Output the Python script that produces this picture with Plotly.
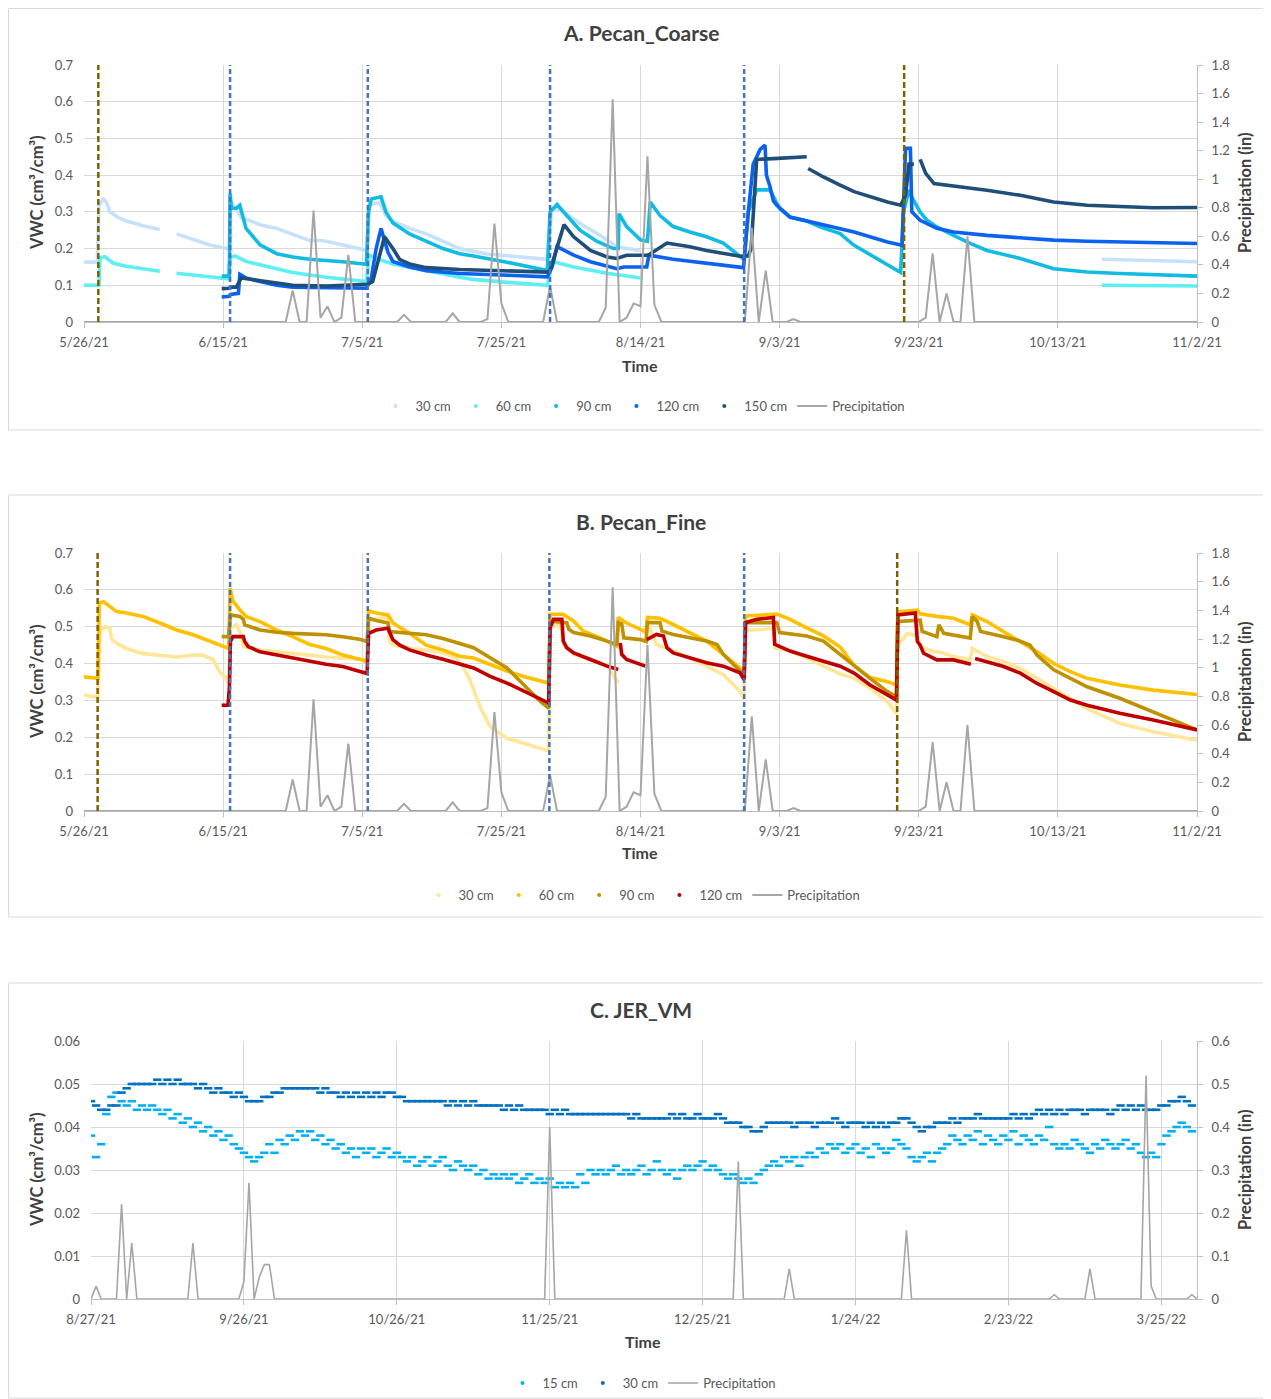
import pandas as pd
import plotly.graph_objects as go

W, H = 1271, 1399
OFF = 8                      # the page body margin offsets the figure by 8px
FIG_W, FIG_H = W - OFF, H - OFF
FONT = "Lato"

# ---------------- DATA ----------------
START_AB = pd.Timestamp("2021-05-26")   # day 0 for panels A and B
END_AB_DAY = 160
START_C = pd.Timestamp("2021-08-27")    # day 0 for panel C
END_C_DAY = 217

TICKS_AB = ["5/26/21", "6/15/21", "7/5/21", "7/25/21", "8/14/21", "9/3/21", "9/23/21", "10/13/21", "11/2/21"]
TICKS_C = ["8/27/21", "9/26/21", "10/26/21", "11/25/21", "12/25/21", "1/24/22", "2/23/22", "3/25/22"]

# irrigation / event markers (days since START_AB)
A_EVENTS_BROWN = [2.06, 117.9]
A_EVENTS_BLUE = [21.0, 40.8, 67.0, 94.9]
B_EVENTS_BROWN = [1.96, 116.9]
B_EVENTS_BLUE = [21.0, 40.8, 66.9, 94.9]

# precipitation (in), (day since START_AB, value) - same gauge for A and B
PRECIP_AB = [(0, 0), (29, 0), (30, 0.22), (31, 0), (32, 0), (33, 0.78), (34, 0.03), (35, 0.11), (36, 0),
             (37, 0.03), (38, 0.47), (39, 0), (45, 0), (46, 0.05), (47, 0), (52, 0), (53, 0.06), (54, 0),
             (57, 0), (58, 0.02), (59, 0.69), (60, 0.13), (61, 0), (66, 0), (67, 0.25), (68, 0), (74, 0),
             (75, 0.10), (76, 1.56), (77, 0), (78, 0.03), (79, 0.13), (80, 0.11), (81, 1.16), (82, 0.12),
             (83, 0), (95, 0), (96, 0.66), (97, 0), (98, 0.36), (99, 0), (101, 0), (102, 0.02), (103, 0),
             (120, 0), (121, 0.03), (122, 0.48), (123, 0), (124, 0.20), (125, 0), (126, 0), (127, 0.60),
             (128, 0), (160, 0)]

# ---- Panel A: Pecan_Coarse VWC (day since START_AB, cm3/cm3) ----
A_30CM = [(0, 0.163), (1.9, 0.163), (2.15, 0.320), (2.8, 0.335), (3.25, 0.325), (3.7, 0.300), (4.9, 0.285),
          (6.1, 0.275), (8.5, 0.262), (10.9, 0.252), (12.1, None), (13.3, 0.240), (15.7, 0.225), (18.1, 0.210),
          (20.5, 0.200), (20.9, 0.200), (21.0, 0.325), (21.4, 0.320), (22.6, 0.285), (23.8, 0.275), (25.3, 0.265),
          (27.7, 0.255), (30.0, 0.240), (32.4, 0.222), (33.9, 0.222), (34.8, 0.220), (37.2, 0.210), (39.6, 0.200),
          (40.7, 0.195), (41.0, 0.320), (42.5, 0.325), (43.4, 0.290), (44.4, 0.275), (46.8, 0.255), (49.2, 0.240),
          (51.6, 0.220), (54.0, 0.200), (58.0, 0.185), (62.0, 0.178), (66.6, 0.171), (67.2, 0.300), (68.0, 0.310),
          (69.4, 0.295), (71.3, 0.268), (74.2, 0.236), (76.6, 0.205), (79.9, 0.195), (113.0, None),
          (146.3, 0.171), (153.0, 0.168), (160.0, 0.164)]
A_60CM = [(0, 0.100), (2.15, 0.100), (2.3, 0.175), (3.0, 0.178), (4.2, 0.160), (6.1, 0.152), (8.5, 0.145),
          (10.9, 0.138), (12.1, None), (13.3, 0.133), (15.7, 0.128), (18.1, 0.122), (20.7, 0.118), (21.0, 0.175),
          (21.7, 0.180), (23.3, 0.165), (25.3, 0.155), (27.7, 0.145), (30.0, 0.135), (32.4, 0.128), (34.8, 0.122),
          (37.2, 0.117), (40.6, 0.110), (41.0, 0.182), (42.5, 0.170), (44.4, 0.158), (46.8, 0.148), (49.2, 0.140),
          (54.0, 0.122), (56.0, 0.116), (60.8, 0.108), (66.6, 0.100), (67.3, 0.165), (70.4, 0.150), (75.2, 0.133),
          (80.0, 0.120), (113.0, None), (146.3, 0.100), (160.0, 0.098)]
A_90CM = [(19.8, 0.125), (20.9, 0.125), (21.0, 0.350), (21.2, 0.310), (21.9, 0.310), (22.4, 0.318), (23.3, 0.255),
          (25.3, 0.210), (27.7, 0.186), (30.0, 0.177), (32.4, 0.171), (34.8, 0.168), (37.2, 0.164), (40.6, 0.157),
          (40.9, 0.300), (41.3, 0.335), (42.7, 0.341), (43.4, 0.300), (44.4, 0.270), (46.8, 0.240), (49.2, 0.220),
          (51.6, 0.200), (54.0, 0.186), (56.0, 0.180), (60.8, 0.163), (66.6, 0.140), (67.0, 0.300), (68.0, 0.320),
          (69.4, 0.290), (71.3, 0.250), (73.7, 0.220), (76.1, 0.200), (76.8, 0.200), (76.9, 0.295), (78.0, 0.260),
          (80.0, 0.224), (81.0, 0.220), (81.4, 0.327), (82.8, 0.290), (84.7, 0.260), (87.1, 0.245), (89.5, 0.232),
          (91.9, 0.215), (94.3, 0.180), (94.9, 0.170), (95.5, 0.300), (96.7, 0.360), (98.6, 0.360), (99.1, 0.340),
          (100.0, 0.309), (101.5, 0.285), (103.9, 0.275), (105.8, 0.259), (108.7, 0.241), (110.7, 0.209),
          (115.5, 0.155), (117.4, 0.135), (117.8, 0.300), (118.6, 0.360), (119.0, 0.340), (120.2, 0.300),
          (121.2, 0.277), (122.6, 0.259), (125.0, 0.236), (127.4, 0.214), (129.8, 0.195), (134.6, 0.173),
          (139.4, 0.145), (144.2, 0.136), (148.9, 0.132), (153.7, 0.129), (160.0, 0.125)]
A_120CM = [(19.8, 0.068), (20.9, 0.070), (21.05, 0.075), (22.2, 0.078), (22.4, 0.130), (23.3, 0.120), (25.3, 0.110),
           (27.7, 0.100), (30.0, 0.095), (34.8, 0.093), (40.6, 0.092), (41.3, 0.120), (42.0, 0.200), (42.7, 0.255),
           (43.7, 0.190), (44.4, 0.165), (46.8, 0.150), (49.2, 0.140), (54.0, 0.132), (60.0, 0.128), (66.6, 0.123),
           (67.3, 0.150), (68.0, 0.205), (70.4, 0.182), (72.8, 0.164), (76.6, 0.145), (77.6, 0.150), (80.9, 0.150),
           (81.2, 0.182), (84.7, 0.171), (89.5, 0.159), (94.8, 0.148), (95.5, 0.300), (96.2, 0.430), (97.2, 0.470),
           (97.9, 0.482), (98.1, 0.400), (98.6, 0.370), (99.1, 0.330), (99.6, 0.318), (101.5, 0.286), (103.9, 0.275),
           (105.8, 0.268), (110.7, 0.245), (115.5, 0.218), (117.6, 0.209), (118.1, 0.473), (118.8, 0.473),
           (119.0, 0.300), (120.2, 0.277), (122.6, 0.255), (125.0, 0.245), (129.8, 0.236), (134.6, 0.229),
           (139.4, 0.223), (144.2, 0.220), (153.7, 0.216), (160.0, 0.214)]
A_150CM = [(19.8, 0.091), (20.9, 0.092), (21.05, 0.095), (21.9, 0.095), (22.6, 0.120), (23.3, 0.118), (25.3, 0.112),
           (27.7, 0.105), (30.0, 0.100), (34.8, 0.098), (39.6, 0.102), (40.8, 0.103), (41.5, 0.110), (42.5, 0.180),
           (43.2, 0.232), (44.4, 0.200), (45.4, 0.170), (46.8, 0.158), (49.2, 0.148), (54.0, 0.143), (60.0, 0.140),
           (66.6, 0.136), (67.0, 0.140), (68.0, 0.200), (69.0, 0.265), (70.4, 0.232), (72.8, 0.195), (75.2, 0.177),
           (76.6, 0.173), (78.0, 0.182), (81.1, 0.182), (83.8, 0.215), (87.1, 0.205), (89.5, 0.195), (94.3, 0.179),
           (95.5, 0.180), (95.9, 0.200), (96.4, 0.350), (96.7, 0.443), (99.1, 0.445), (103.9, 0.450), (104.0, None),
           (104.1, 0.418), (106.3, 0.395), (108.7, 0.373), (110.7, 0.355), (115.5, 0.327), (117.4, 0.318),
           (118.1, 0.345), (118.6, 0.430), (119.3, 0.430), (119.8, None), (120.2, 0.443), (121.0, 0.405),
           (122.2, 0.377), (125.0, 0.371), (129.8, 0.359), (134.6, 0.345), (139.4, 0.327), (144.2, 0.318),
           (148.9, 0.314), (153.7, 0.311), (160.0, 0.312)]

# ---- Panel B: Pecan_Fine VWC ----
B_30CM = [(0, 0.315), (2.0, 0.308), (2.3, 0.487), (3.0, 0.500), (3.7, 0.496), (4.0, 0.465), (4.7, 0.455),
          (6.1, 0.441), (8.5, 0.427), (10.9, 0.423), (13.3, 0.418), (15.7, 0.423), (17.1, 0.423), (18.6, 0.410),
          (19.5, 0.377), (20.5, 0.360), (20.8, 0.346), (21.0, 0.496), (21.9, 0.505), (22.6, 0.478), (22.9, 0.446),
          (25.3, 0.437), (27.7, 0.433), (30.0, 0.428), (32.4, 0.423), (34.8, 0.418), (37.2, 0.414), (39.6, 0.410),
          (40.7, 0.410), (41.1, 0.520), (43.7, 0.525), (43.9, 0.465), (44.4, 0.450), (46.8, 0.441), (49.2, 0.437),
          (51.6, 0.430), (53.5, 0.415), (54.5, 0.390), (55.5, 0.355), (56.2, 0.320), (57.0, 0.280), (58.4, 0.229),
          (60.8, 0.197), (63.2, 0.184), (66.8, 0.163), (67.0, 0.500), (68.5, 0.505), (68.9, 0.452), (70.4, 0.425),
          (72.8, 0.411), (75.2, 0.395), (76.8, 0.347), (79.0, None), (81.2, 0.502), (82.3, 0.452), (84.7, 0.434),
          (87.1, 0.415), (89.5, 0.393), (91.9, 0.370), (94.3, 0.325), (94.9, 0.302), (95.1, 0.490), (99.1, 0.495),
          (99.3, 0.443), (101.5, 0.434), (103.9, 0.415), (106.0, 0.395), (108.7, 0.372), (110.7, 0.360),
          (113.0, 0.333), (115.5, 0.296), (116.8, 0.265), (117.0, 0.450), (118.4, 0.482), (119.8, 0.475),
          (120.2, 0.446), (122.2, 0.432), (123.3, 0.430), (125.0, 0.419), (127.4, 0.410), (127.7, 0.441),
          (129.8, 0.419), (132.2, 0.405), (134.6, 0.387), (137.0, 0.360), (139.4, 0.333), (144.2, 0.278),
          (148.9, 0.238), (153.7, 0.215), (160.0, 0.192)]
B_60CM = [(0, 0.364), (2.0, 0.360), (2.2, 0.564), (2.8, 0.568), (3.7, 0.555), (4.7, 0.541), (6.1, 0.537),
          (8.5, 0.528), (10.9, 0.510), (13.3, 0.491), (15.7, 0.478), (18.1, 0.460), (20.8, 0.441), (21.0, 0.605),
          (21.4, 0.570), (22.4, 0.546), (23.3, 0.528), (25.3, 0.514), (27.7, 0.491), (30.0, 0.473), (32.4, 0.452),
          (34.8, 0.441), (37.2, 0.423), (39.6, 0.412), (40.7, 0.405), (40.9, 0.543), (42.0, 0.537), (43.7, 0.532),
          (44.4, 0.510), (46.8, 0.482), (49.2, 0.450), (51.6, 0.437), (54.0, 0.420), (56.0, 0.415), (58.4, 0.397),
          (60.8, 0.380), (63.2, 0.365), (66.8, 0.347), (67.0, 0.534), (68.9, 0.534), (70.4, 0.515), (71.8, 0.488),
          (74.2, 0.470), (76.6, 0.447), (76.8, 0.525), (78.0, 0.510), (80.0, 0.493), (80.8, 0.485), (81.0, 0.525),
          (82.8, 0.523), (84.7, 0.506), (87.1, 0.484), (89.5, 0.461), (91.9, 0.425), (94.3, 0.388), (94.9, 0.375),
          (95.1, 0.529), (99.6, 0.534), (101.5, 0.520), (103.9, 0.497), (106.3, 0.475), (108.7, 0.445),
          (110.7, 0.395), (113.0, 0.362), (115.5, 0.351), (116.8, 0.342), (117.0, 0.541), (119.8, 0.545),
          (120.2, 0.535), (122.6, 0.528), (125.0, 0.523), (127.4, 0.505), (127.7, 0.532), (129.8, 0.514),
          (132.2, 0.487), (134.6, 0.460), (137.0, 0.432), (139.4, 0.400), (141.8, 0.378), (144.2, 0.360),
          (148.9, 0.342), (153.7, 0.328), (160.0, 0.316)]
B_90CM = [(19.8, 0.473), (20.8, 0.473), (21.05, 0.532), (22.4, 0.528), (22.9, 0.520), (23.1, 0.505), (25.3, 0.491),
          (27.7, 0.485), (30.0, 0.482), (34.8, 0.478), (37.2, 0.473), (39.6, 0.466), (40.7, 0.460), (40.9, 0.523),
          (42.0, 0.517), (43.7, 0.510), (43.9, 0.487), (46.8, 0.482), (49.2, 0.478), (51.6, 0.468), (56.0, 0.443),
          (60.8, 0.388), (63.2, 0.343), (65.6, 0.297), (66.8, 0.279), (67.0, 0.515), (69.4, 0.511), (69.7, 0.493),
          (70.4, 0.484), (72.8, 0.475), (75.2, 0.461), (76.6, 0.452), (76.8, 0.511), (77.3, 0.508), (77.6, 0.470),
          (80.0, 0.465), (80.8, 0.460), (81.0, 0.511), (82.8, 0.511), (83.1, 0.488), (84.7, 0.479), (87.1, 0.470),
          (89.5, 0.461), (91.0, 0.452), (91.9, 0.425), (93.4, 0.397), (94.9, 0.370), (95.1, 0.511), (99.6, 0.511),
          (100.0, 0.484), (103.9, 0.475), (106.3, 0.461), (108.7, 0.425), (110.7, 0.392), (113.0, 0.360),
          (115.5, 0.324), (116.8, 0.310), (117.0, 0.514), (120.2, 0.518), (120.5, 0.487), (122.6, 0.473),
          (122.9, 0.505), (123.6, 0.482), (127.4, 0.469), (127.7, 0.528), (128.4, 0.514), (128.9, 0.487),
          (132.2, 0.473), (134.6, 0.461), (136.0, 0.450), (137.0, 0.423), (139.4, 0.383), (141.8, 0.360),
          (144.2, 0.337), (148.9, 0.306), (153.7, 0.269), (160.0, 0.220)]
B_120CM = [(19.8, 0.287), (20.7, 0.287), (20.9, 0.333), (21.05, 0.460), (21.4, 0.473), (22.9, 0.473), (23.1, 0.460),
           (23.6, 0.446), (25.3, 0.432), (27.7, 0.423), (30.0, 0.414), (32.4, 0.405), (34.8, 0.398), (37.2, 0.392),
           (39.6, 0.380), (40.7, 0.373), (40.9, 0.482), (42.0, 0.491), (43.7, 0.496), (44.4, 0.465), (45.4, 0.450),
           (46.8, 0.437), (49.2, 0.423), (51.6, 0.412), (56.0, 0.388), (58.4, 0.365), (60.8, 0.347), (63.2, 0.325),
           (66.8, 0.293), (67.0, 0.497), (67.5, 0.520), (68.7, 0.520), (68.9, 0.461), (69.4, 0.443), (70.4, 0.429),
           (72.8, 0.411), (75.2, 0.393), (76.8, 0.384), (76.95, None), (77.1, 0.456), (77.3, 0.425), (78.0, 0.411),
           (80.0, 0.397), (80.7, 0.393), (80.8, None), (80.9, 0.465), (82.3, 0.479), (83.3, 0.475), (83.8, 0.443),
           (84.7, 0.429), (87.1, 0.415), (89.5, 0.402), (91.9, 0.393), (94.3, 0.375), (94.9, 0.356), (95.1, 0.511),
           (96.7, 0.520), (99.1, 0.525), (99.3, 0.452), (101.5, 0.434), (103.9, 0.420), (108.7, 0.393),
           (110.7, 0.374), (113.0, 0.342), (115.5, 0.315), (116.8, 0.301), (117.0, 0.532), (119.5, 0.537),
           (119.8, 0.460), (120.2, 0.450), (120.7, 0.428), (122.6, 0.410), (125.0, 0.410), (127.5, 0.398),
           (127.8, None), (128.1, 0.414), (129.8, 0.405), (132.2, 0.392), (134.6, 0.374), (137.0, 0.346),
           (139.4, 0.324), (141.8, 0.301), (144.2, 0.287), (148.9, 0.265), (153.7, 0.247), (160.0, 0.220)]

# ---- Panel C: JER_VM daily VWC from START_C (day 0 .. 216) ----
C_15CM = [0.038, 0.033, 0.036, 0.043, 0.047, 0.048, 0.046, 0.045, 0.046, 0.044,
          0.045, 0.044, 0.045, 0.044, 0.043, 0.044, 0.042, 0.043, 0.041, 0.042,
          0.040, 0.041, 0.039, 0.040, 0.038, 0.039, 0.037, 0.038, 0.036, 0.035,
          0.034, 0.033, 0.032, 0.033, 0.034, 0.036, 0.034, 0.037, 0.036, 0.038,
          0.037, 0.039, 0.038, 0.039, 0.037, 0.038, 0.036, 0.037, 0.035, 0.036,
          0.034, 0.035, 0.033, 0.035, 0.034, 0.035, 0.033, 0.034, 0.035, 0.033,
          0.034, 0.033, 0.032, 0.033, 0.031, 0.032, 0.033, 0.031, 0.032, 0.033,
          0.031, 0.030, 0.032, 0.031, 0.030, 0.031, 0.029, 0.030, 0.028, 0.029,
          0.028, 0.029, 0.028, 0.029, 0.027, 0.028, 0.029, 0.027, 0.028, 0.027,
          0.028, 0.026, 0.027, 0.026, 0.027, 0.026, 0.029, 0.027, 0.030, 0.029,
          0.030, 0.029, 0.030, 0.031, 0.029, 0.030, 0.029, 0.030, 0.031, 0.029,
          0.030, 0.032, 0.030, 0.029, 0.030, 0.028, 0.030, 0.031, 0.030, 0.031,
          0.032, 0.030, 0.031, 0.030, 0.029, 0.028, 0.029, 0.028, 0.027, 0.028,
          0.027, 0.029, 0.030, 0.031, 0.032, 0.031, 0.033, 0.032, 0.033, 0.031,
          0.033, 0.034, 0.033, 0.035, 0.034, 0.036, 0.035, 0.036, 0.034, 0.035,
          0.036, 0.034, 0.035, 0.033, 0.036, 0.035, 0.034, 0.035, 0.037, 0.036,
          0.035, 0.033, 0.032, 0.033, 0.034, 0.032, 0.034, 0.035, 0.036, 0.038,
          0.037, 0.036, 0.038, 0.037, 0.039, 0.036, 0.038, 0.037, 0.036, 0.038,
          0.037, 0.039, 0.036, 0.038, 0.037, 0.036, 0.038, 0.037, 0.040, 0.036,
          0.035, 0.036, 0.035, 0.037, 0.036, 0.035, 0.034, 0.036, 0.035, 0.037,
          0.036, 0.035, 0.036, 0.037, 0.035, 0.036, 0.034, 0.033, 0.034, 0.033,
          0.036, 0.038, 0.039, 0.040, 0.041, 0.040, 0.039]
C_30CM = [0.046, 0.045, 0.044, 0.044, 0.045, 0.045, 0.048, 0.049, 0.050, 0.050,
          0.050, 0.050, 0.050, 0.051, 0.050, 0.051, 0.050, 0.051, 0.050, 0.050,
          0.050, 0.049, 0.050, 0.049, 0.048, 0.049, 0.048, 0.048, 0.047, 0.048,
          0.047, 0.046, 0.046, 0.046, 0.047, 0.047, 0.048, 0.048, 0.049, 0.049,
          0.049, 0.049, 0.049, 0.049, 0.049, 0.048, 0.049, 0.048, 0.048, 0.047,
          0.048, 0.047, 0.048, 0.047, 0.048, 0.047, 0.048, 0.047, 0.048, 0.048,
          0.047, 0.047, 0.046, 0.046, 0.046, 0.046, 0.046, 0.046, 0.046, 0.046,
          0.045, 0.046, 0.045, 0.046, 0.045, 0.046, 0.045, 0.045, 0.045, 0.045,
          0.045, 0.044, 0.045, 0.044, 0.045, 0.044, 0.044, 0.044, 0.044, 0.044,
          0.043, 0.044, 0.043, 0.044, 0.043, 0.043, 0.043, 0.043, 0.043, 0.043,
          0.043, 0.043, 0.043, 0.043, 0.043, 0.043, 0.042, 0.043, 0.042, 0.042,
          0.042, 0.042, 0.042, 0.042, 0.043, 0.042, 0.043, 0.042, 0.042, 0.043,
          0.042, 0.042, 0.042, 0.043, 0.042, 0.041, 0.041, 0.041, 0.040, 0.040,
          0.039, 0.039, 0.040, 0.041, 0.041, 0.041, 0.041, 0.041, 0.040, 0.041,
          0.041, 0.041, 0.040, 0.041, 0.041, 0.041, 0.042, 0.041, 0.040, 0.041,
          0.041, 0.041, 0.040, 0.041, 0.040, 0.041, 0.040, 0.041, 0.041, 0.042,
          0.042, 0.041, 0.040, 0.039, 0.040, 0.040, 0.041, 0.041, 0.041, 0.042,
          0.041, 0.042, 0.042, 0.042, 0.043, 0.042, 0.042, 0.042, 0.042, 0.042,
          0.042, 0.043, 0.042, 0.043, 0.042, 0.043, 0.044, 0.043, 0.044, 0.043,
          0.044, 0.043, 0.044, 0.044, 0.044, 0.043, 0.044, 0.044, 0.044, 0.044,
          0.043, 0.044, 0.045, 0.044, 0.045, 0.044, 0.045, 0.044, 0.044, 0.044,
          0.045, 0.045, 0.046, 0.046, 0.047, 0.046, 0.045]
PRECIP_C = [(0, 0), (1, 0.03), (2, 0), (5, 0), (6, 0.22), (7, 0), (8, 0.13), (9, 0), (19, 0), (20, 0.13), (21, 0),
            (29, 0), (30, 0.04), (31, 0.27), (32, 0), (33, 0.05), (34, 0.08), (35, 0.08), (36, 0), (89, 0),
            (90, 0.40), (91, 0), (126, 0), (127, 0.32), (128, 0), (136, 0), (137, 0.07), (138, 0), (159, 0),
            (160, 0.16), (161, 0), (188, 0), (189, 0.01), (190, 0), (195, 0), (196, 0.07), (197, 0), (206, 0),
            (207, 0.52), (208, 0.03), (209, 0), (215, 0), (216, 0.01), (217, 0)]

# ---------------- STYLE ----------------
COL_A = {"30 cm": "#C6E2FA", "60 cm": "#5EEFF3", "90 cm": "#12BBE2", "120 cm": "#0B62EE", "150 cm": "#1F4E79"}
COL_B = {"30 cm": "#FFE699", "60 cm": "#FFC000", "90 cm": "#BF9000", "120 cm": "#C00000"}
COL_C = {"15 cm": "#00B0F0", "30 cm": "#0070C0"}
COL_PRECIP = "#A6A6A6"
COL_BROWN = "#7F6000"
COL_BLUE = "#4472C4"
GRID = "#D9D9D9"
AXLINE = "#BFBFBF"
TICKC = "#595959"
TITLEC = "#404040"


def px(x):
    return (x - OFF) / FIG_W


def py(y):
    return 1 - (y - OFF) / FIG_H


def to_xy(start, pairs):
    xs = [start + pd.Timedelta(days=d) for d, _ in pairs]
    ys = [v for _, v in pairs]
    return xs, ys


fig = go.Figure()


def add_line_panel(series, colors, xa, ya, ya2, leg, start, precip):
    for name, pairs in series:
        xs, ys = to_xy(start, pairs)
        fig.add_trace(go.Scatter(x=xs, y=ys, mode="lines", connectgaps=False,
                                 line=dict(color=colors[name], width=3.6),
                                 showlegend=False, xaxis=xa, yaxis=ya, hoverinfo="skip"))
    for name, _ in series:
        fig.add_trace(go.Scatter(x=[None], y=[None], mode="markers", name=name,
                                 marker=dict(color=colors[name], size=4),
                                 legend=leg, xaxis=xa, yaxis=ya))
    xs, ys = to_xy(start, precip)
    fig.add_trace(go.Scatter(x=xs, y=ys, mode="lines", name="Precipitation",
                             line=dict(color=COL_PRECIP, width=2),
                             legend=leg, xaxis=xa, yaxis=ya2, hoverinfo="skip"))


add_line_panel([("30 cm", A_30CM), ("60 cm", A_60CM), ("90 cm", A_90CM), ("120 cm", A_120CM), ("150 cm", A_150CM)],
               COL_A, "x", "y", "y2", "legend", START_AB, PRECIP_AB)
add_line_panel([("30 cm", B_30CM), ("60 cm", B_60CM), ("90 cm", B_90CM), ("120 cm", B_120CM)],
               COL_B, "x2", "y3", "y4", "legend2", START_AB, PRECIP_AB)

for name, vals in [("15 cm", C_15CM), ("30 cm", C_30CM)]:
    xs = [START_C + pd.Timedelta(days=i) for i in range(len(vals))]
    fig.add_trace(go.Scatter(x=xs, y=vals, mode="markers",
                             marker=dict(symbol="line-ew", size=6, line=dict(width=2.6, color=COL_C[name])),
                             showlegend=False, xaxis="x3", yaxis="y5", hoverinfo="skip"))
for name in ["15 cm", "30 cm"]:
    fig.add_trace(go.Scatter(x=[None], y=[None], mode="markers", name=name,
                             marker=dict(color=COL_C[name], size=4), legend="legend3", xaxis="x3", yaxis="y5"))
xs, ys = to_xy(START_C, PRECIP_C)
fig.add_trace(go.Scatter(x=xs, y=ys, mode="lines", name="Precipitation",
                         line=dict(color=COL_PRECIP, width=1.6), legend="legend3",
                         xaxis="x3", yaxis="y6", hoverinfo="skip"))

# ---------------- AXES ----------------
XDOM_AB = [px(84), px(1197)]
XDOM_C = [px(91), px(1197)]
YDOM_A = [py(322), py(65)]
YDOM_B = [py(811), py(553)]
YDOM_C = [py(1299), py(1041)]


def xaxis(domain, anchor, start, end_day, labels):
    return dict(domain=domain, anchor=anchor, type="date", automargin=False,
                range=[start, start + pd.Timedelta(days=end_day)],
                tickmode="array", tickvals=[pd.to_datetime(t, format="%m/%d/%y") for t in labels],
                ticktext=labels, showgrid=True, gridcolor=GRID, gridwidth=1,
                showline=True, linecolor=AXLINE, linewidth=1, ticks="outside", ticklen=5,
                tickcolor=AXLINE, zeroline=False, tickfont=dict(size=13, color=TICKC),
                ticklabelstandoff=3)


def yleft(domain, anchor, rng, dtick):
    return dict(domain=domain, anchor=anchor, range=rng, dtick=dtick, tick0=0, automargin=False,
                showgrid=True, gridcolor=GRID, gridwidth=1, zeroline=False, showline=False,
                ticks="", tickfont=dict(size=13, color=TICKC), ticklabelstandoff=10)


def yright(domain, anchor, over, rng, dtick):
    return dict(domain=domain, anchor=anchor, overlaying=over, side="right", range=rng, dtick=dtick,
                tick0=0, automargin=False, showgrid=False, zeroline=False, showline=True, linecolor=AXLINE,
                linewidth=1, ticks="outside", ticklen=5, tickcolor=AXLINE,
                tickfont=dict(size=13, color=TICKC), ticklabelstandoff=6)


fig.update_layout(
    width=FIG_W, height=FIG_H, autosize=False,
    margin=dict(l=0, r=0, t=0, b=0, pad=0, autoexpand=False),
    paper_bgcolor="white", plot_bgcolor="white",
    font=dict(family=FONT, size=13, color=TICKC),
    xaxis=xaxis(XDOM_AB, "y", START_AB, END_AB_DAY, TICKS_AB),
    yaxis=yleft(YDOM_A, "x", [0, 0.7], 0.1),
    yaxis2=yright(YDOM_A, "x", "y", [0, 1.8], 0.2),
    xaxis2=xaxis(XDOM_AB, "y3", START_AB, END_AB_DAY, TICKS_AB),
    yaxis3=yleft(YDOM_B, "x2", [0, 0.7], 0.1),
    yaxis4=yright(YDOM_B, "x2", "y3", [0, 1.8], 0.2),
    xaxis3=xaxis(XDOM_C, "y5", START_C, END_C_DAY, TICKS_C),
    yaxis5=yleft(YDOM_C, "x3", [0, 0.06], 0.01),
    yaxis6=yright(YDOM_C, "x3", "y5", [0, 0.6], 0.1),
)

leg_common = dict(orientation="h", xanchor="center", yanchor="middle", bgcolor="rgba(0,0,0,0)",
                  font=dict(family=FONT, size=13, color=TICKC), itemwidth=30, tracegroupgap=0)
fig.update_layout(
    legend=dict(x=px(643), y=py(406), **leg_common),
    legend2=dict(x=px(642), y=py(895), **leg_common),
    legend3=dict(x=px(642), y=py(1383), **leg_common),
)

# ---------------- SHAPES ----------------
shapes = []
for y0, y1 in [(8.5, 430), (495, 917), (983, 1398)]:
    shapes.append(dict(type="rect", xref="paper", yref="paper", x0=px(8.5), x1=1.02, y0=py(y1), y1=py(y0),
                       line=dict(color=GRID, width=1), fillcolor="rgba(0,0,0,0)", layer="below"))


def event_lines(days, color, xref, yref, dash):
    for d in days:
        x = START_AB + pd.Timedelta(days=d)
        shapes.append(dict(type="line", xref=xref, yref=yref, x0=x, x1=x, y0=0, y1=1,
                           line=dict(color=color, width=2.5, dash=dash), layer="above"))


event_lines(A_EVENTS_BROWN, COL_BROWN, "x", "y domain", "6px,3px")
event_lines(A_EVENTS_BLUE, COL_BLUE, "x", "y domain", "5px,3px")
event_lines(B_EVENTS_BROWN, COL_BROWN, "x2", "y3 domain", "6px,3px")
event_lines(B_EVENTS_BLUE, COL_BLUE, "x2", "y3 domain", "5px,3px")
fig.update_layout(shapes=shapes)

# ---------------- TEXT ----------------
ann = []


def text(x, y, s, size, color, bold=False, angle=0):
    ann.append(dict(x=px(x), y=py(y), xref="paper", yref="paper", text=f"<b>{s}</b>" if bold else s,
                    showarrow=False, xanchor="center", yanchor="middle", textangle=angle,
                    font=dict(family=FONT, size=size, color=color)))


for (title, ty, cy) in [("A. Pecan_Coarse", 33, 193), ("B. Pecan_Fine", 521, 682), ("C. JER_VM", 1009, 1170)]:
    text(641, ty, title, 21, TITLEC, True)
    text(37, cy, "VWC (cm³/cm³)", 16.5, TITLEC, True, -90)
    text(1245, cy, "Precipitation (in)", 16.5, TITLEC, True, -90)
text(640, 365, "Time", 16, TITLEC, True)
text(640, 853, "Time", 16, TITLEC, True)
text(643, 1341, "Time", 16, TITLEC, True)
fig.update_layout(annotations=ann)

fig.write_html("out.html")
